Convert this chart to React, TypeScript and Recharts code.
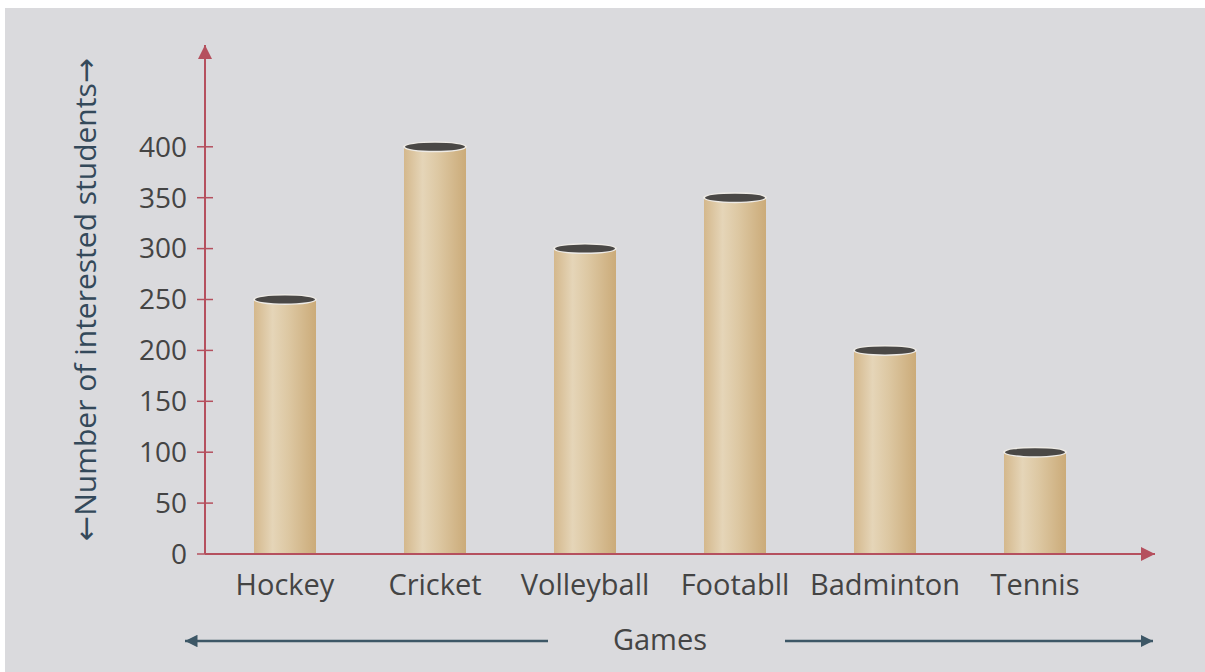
import { Bar, BarChart, XAxis, YAxis } from 'recharts'

const games = ['Hockey', 'Cricket', 'Volleyball', 'Footabll', 'Badminton', 'Tennis']
const students = [250, 400, 300, 350, 200, 100]
const yTicks = [0, 50, 100, 150, 200, 250, 300, 350, 400]

const data = games.map((game, i) => ({ game, students: students[i] }))

const AXIS = '#b5505e'
const TEXT = '#444444'
const ARROW = '#3d5766'
const FONT = '"Open Sans", "DejaVu Sans", sans-serif'

// cylinder bar: shaded tube + dark elliptical top
function Cylinder(props: any) {
  const { x, y, width, height } = props
  if (!height) return null
  const cx = x + width / 2
  return (
    <g>
      <rect x={x} y={y} width={width} height={height} fill="url(#tube)" />
      <ellipse cx={cx} cy={y} rx={width / 2 + 1} ry={5.5} fill="#eeebe6" />
      <ellipse cx={cx} cy={y} rx={width / 2 - 1} ry={4} fill="#4a4846" />
    </g>
  )
}

function YTick(props: any) {
  const { x, y, payload } = props
  return (
    <g>
      <line x1={x + 8} x2={x + 24} y1={y} y2={y} stroke={AXIS} strokeWidth={1.5} />
      <text x={x - 2} y={y} dy="0.35em" textAnchor="end" fill={TEXT} fontSize={28} fontFamily={FONT}>
        {payload.value}
      </text>
    </g>
  )
}

function YLabel(props: any) {
  const { viewBox } = props
  const cx = viewBox.x + 84
  const cy = viewBox.y + viewBox.height / 2
  return (
    <text
      x={cx}
      y={cy}
      transform={`rotate(-90 ${cx} ${cy})`}
      textAnchor="middle"
      dominantBaseline="central"
      fill="#34495a"
      fontSize={30}
      fontFamily={FONT}
    >
      ←Number of interested students→
    </text>
  )
}

function XLabel(props: any) {
  const { viewBox } = props
  const left = viewBox.x
  const ty = viewBox.y + 96
  return (
    <g>
      <line x1={left + 343} x2={left - 20} y1={ty - 9} y2={ty - 9} stroke={ARROW} strokeWidth={2.5} markerEnd="url(#arrowBlue)" />
      <text x={left + 455} y={ty} textAnchor="middle" fill={TEXT} fontSize={29} fontFamily={FONT}>
        Games
      </text>
      <line x1={left + 580} x2={left + 948} y1={ty - 9} y2={ty - 9} stroke={ARROW} strokeWidth={2.5} markerEnd="url(#arrowBlue)" />
    </g>
  )
}

export default function App() {
  return (
    <div style={{ position: 'absolute', left: 0, top: 0, width: 1205, height: 672, background: '#dadadd', overflow: 'hidden' }}>
      <div style={{ position: 'absolute', left: 0, top: 0, width: 1205, height: 8, background: '#ffffff' }} />
      <div style={{ position: 'absolute', left: 0, top: 0, width: 5, height: 672, background: '#ffffff' }} />
      <svg width={0} height={0} style={{ position: 'absolute' }}>
        <defs>
          <linearGradient id="tube" x1="0" y1="0" x2="1" y2="0">
            <stop offset="0%" stopColor="#d4b88c" />
            <stop offset="30%" stopColor="#e5d5b8" />
            <stop offset="55%" stopColor="#ddc8a3" />
            <stop offset="100%" stopColor="#cbab79" />
          </linearGradient>
          <marker id="arrowRed" viewBox="0 0 10 10" refX="10" refY="5" markerWidth="7" markerHeight="7" markerUnits="strokeWidth" orient="auto-start-reverse">
            <path d="M0,0 L10,5 L0,10 z" fill={AXIS} />
          </marker>
          <marker id="arrowBlue" viewBox="0 0 10 10" refX="10" refY="5" markerWidth="5" markerHeight="5" markerUnits="strokeWidth" orient="auto">
            <path d="M0,0 L10,5 L0,10 z" fill={ARROW} />
          </marker>
        </defs>
      </svg>
      <BarChart
        width={1205}
        height={672}
        data={data}
        margin={{ top: 45, right: 50, bottom: 0, left: 0 }}
        style={{ position: 'absolute', left: 0, top: 0 }}
      >
        <XAxis
          dataKey="game"
          height={118}
          padding={{ left: 5, right: 45 }}
          axisLine={{ stroke: AXIS, strokeWidth: 2, markerEnd: 'url(#arrowRed)' }}
          tickLine={false}
          tickSize={0}
          tickMargin={20}
          tick={{ fill: TEXT, fontSize: 29, fontFamily: FONT }}
          interval={0}
          label={{ content: XLabel }}
        />
        <YAxis
          width={205}
          domain={[0, 500]}
          ticks={yTicks}
          allowDataOverflow
          axisLine={{ stroke: AXIS, strokeWidth: 2, markerStart: 'url(#arrowRed)' }}
          tickLine={false}
          tickSize={8}
          tickMargin={8}
          tick={YTick}
          label={{ content: YLabel }}
        />
        <Bar dataKey="students" barSize={62} shape={Cylinder} isAnimationActive={false} />
      </BarChart>
    </div>
  )
}
